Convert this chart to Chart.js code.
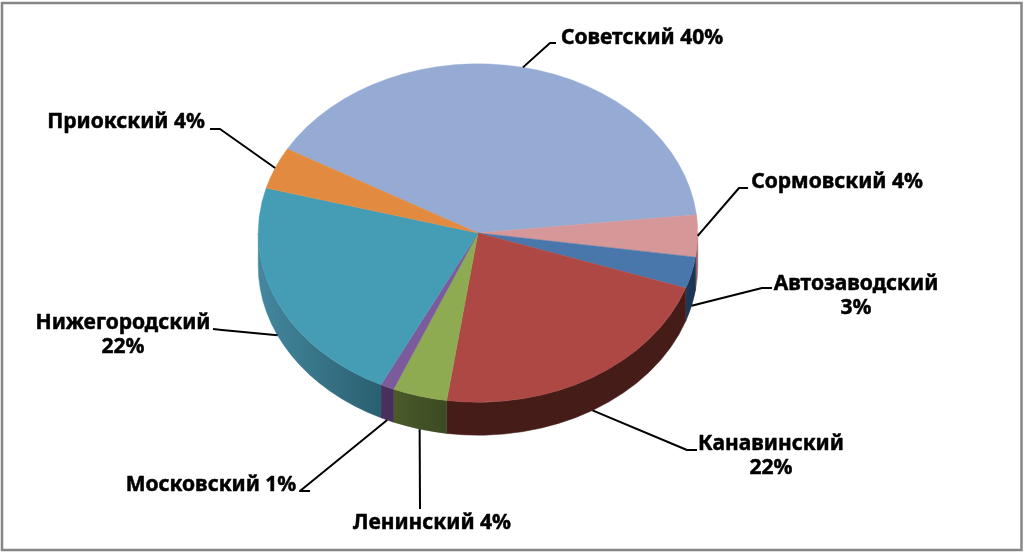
<!DOCTYPE html>
<html><head><meta charset="utf-8">
<style>html,body{margin:0;padding:0;background:#fff}canvas{display:block}</style>
<script src="https://cdn.jsdelivr.net/npm/chart.js@4"></script>
</head><body><canvas id="c" width="1024" height="552"></canvas>
<script>
const categories = ['Советский','Сормовский','Автозаводский','Канавинский','Ленинский','Московский','Нижегородский','Приокский'];
const values = [40,4,3,22,4,1,22,4];
const topColors = ['#95abd3','#d59798','#4a77ab','#ad4845','#8eab52','#7c5b9c','#459db5','#e28a40'];
const sideFrom = ['#5f7191','#8f6263','#1f3a5a','#451c18','#4a5a2a','#4a3060','#44879f','#a05f2a'];
const sideTo   = ['#5f7191','#8f6263','#1a3350','#451c18','#3c4a22','#45305a','#2a6070','#a05f2a'];
// label layout: text centre x, first-line centre y, wrapped?, elbow point, line end point
const labelX = [642,837,856,771,432,211,123,126];
const labelY = [38,182,284,444,523,485,323,122];
const labelWrap = [false,false,true,true,false,false,true,false];
const elbows = [[550,43],[739,188],[762,288],[687,450],[420,509],[300,491],[222,330],[220,129]];
const ends   = [[556,43],[748,188],[772,288],[697,450],[420,509],[310,491],[213,329],[210,129]];
const FLAT = 0.77, DEPTH = 33;
const FONT = 'bold 21px "Noto Sans"';

const pie3d = {
  id:'pie3d',
  beforeDraw(chart){
    const c = chart.ctx; c.save();
    c.fillStyle='#fff'; c.fillRect(0,0,1024,552);
    c.strokeStyle='#868686'; c.lineWidth=2.5;
    c.strokeRect(2,3,1019.5,547);
    c.restore();
  },
  beforeDatasetDraw(chart){
    const c = chart.ctx, arcs = chart.getDatasetMeta(0).data;
    const cx = arcs[0].x, cy = arcs[0].y, rx = arcs[0].outerRadius, ry = rx*FLAT;
    arcs.forEach((a,i)=>{
      for(const k of [-2,0,2]){
        const s = Math.max(a.startAngle+k*Math.PI,0), e = Math.min(a.endAngle+k*Math.PI,Math.PI);
        if(e<=s) continue;
        const x0 = cx+rx*Math.cos(e), x1 = cx+rx*Math.cos(s);
        const g = c.createLinearGradient(x0,0,x1,0);
        g.addColorStop(0,sideFrom[i]); g.addColorStop(1,sideTo[i]);
        c.beginPath();
        c.ellipse(cx,cy,rx,ry,0,s,e);
        c.ellipse(cx,cy+DEPTH,rx,ry,0,e,s,true);
        c.closePath();
        c.fillStyle=g; c.fill();
        c.strokeStyle=g; c.lineWidth=0.5; c.stroke();
      }
    });
    c.save();
    c.translate(cx,cy); c.scale(1,FLAT); c.translate(-cx,-cy);
  },
  afterDatasetDraw(chart){
    const c = chart.ctx; c.restore();
    const arcs = chart.getDatasetMeta(0).data;
    c.save();
    c.strokeStyle='#000'; c.lineWidth=2; c.lineJoin='round';
    arcs.forEach((a,i)=>{
      const m=(a.startAngle+a.endAngle)/2;
      const x=a.x+a.outerRadius*Math.cos(m);
      let y=a.y+a.outerRadius*FLAT*Math.sin(m);
      if(y>a.y+10) y+=DEPTH;
      c.beginPath(); c.moveTo(x,y);
      c.lineTo(elbows[i][0],elbows[i][1]);
      c.lineTo(ends[i][0],ends[i][1]);
      c.stroke();
    });
    c.fillStyle='#000'; c.font=FONT; c.textAlign='center'; c.textBaseline='middle';
    c.lineWidth=0.5; c.lineJoin='round';
    const put=(t,x,y)=>{c.strokeText(t,x,y);c.fillText(t,x,y);};
    categories.forEach((n,i)=>{
      const pct=values[i]+'%';
      if(labelWrap[i]){
        put(n,labelX[i],labelY[i]);
        put(pct,labelX[i],labelY[i]+24);
      } else put(n+' '+pct,labelX[i],labelY[i]);
    });
    c.restore();
  }
};
new Chart(document.getElementById('c'),{
  type:'pie',
  data:{labels:categories,datasets:[{data:values,backgroundColor:topColors,borderColor:topColors,borderWidth:0.5}]},
  options:{
    responsive:false,animation:false,rotation:-60.2,
    layout:{padding:{left:258,right:326,top:13,bottom:99}},
    plugins:{legend:{display:false},tooltip:{enabled:false}}
  },
  plugins:[pie3d]
});
</script></body></html>
